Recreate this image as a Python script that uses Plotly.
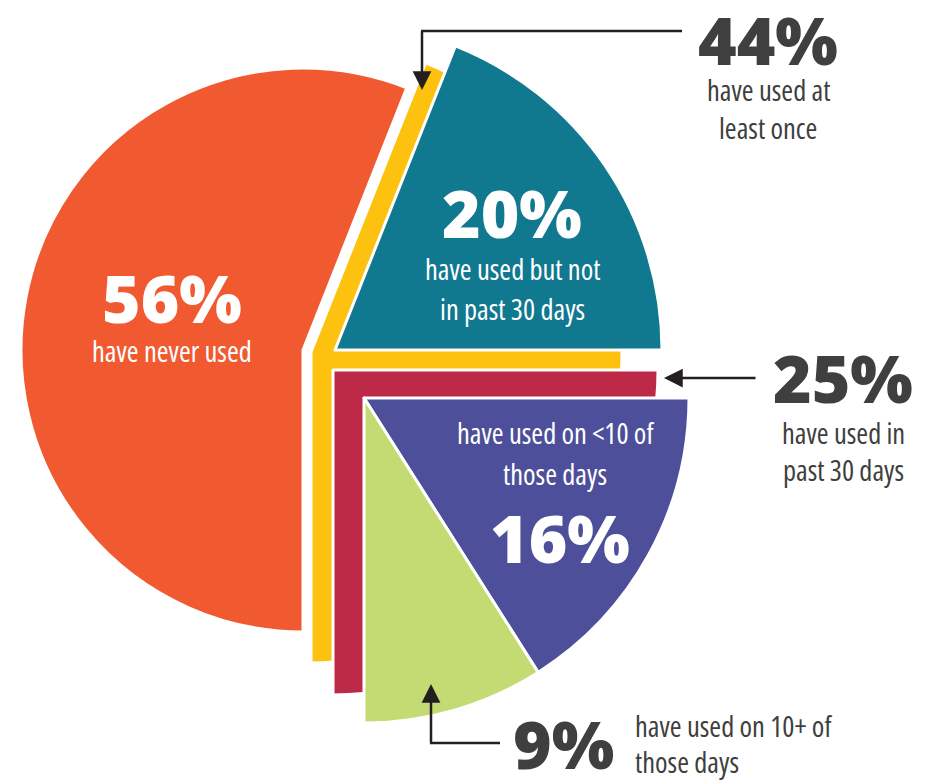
import plotly.graph_objects as go

W, H = 930, 780

# ---- data (percent of respondents) ----
never_used = 56
ever_used = 44
used_not_past30 = 20
used_past30 = 25
used_lt10 = 16
used_10plus = 9

big_labels = ["56%", "20%", "16%", "44%", "25%", "9%"]

# ---- styles ----
C_NEVER = "#F15A31"
C_EVER = "#FDC210"
C_NOT30 = "#10788F"
C_PAST30 = "#BC2A48"
C_LT10 = "#4D4F9A"
C_GE10 = "#C4DB74"
NONE = "rgba(0,0,0,0)"
DARK = "#3F3F40"
ARROW = "#231F20"

BIG = "Open Sans"
SMALL = "Open Sans"
SM = 28.5

# the "ever used" group starts so that it ends at 6 o'clock
rot = 180 - 360 * ever_used / 100
teal_part = ever_used - used_past30


def dom(cx, cy, r):
    return dict(x=[max(0, (cx - r) / W), min(1, (cx + r) / W)],
                y=[max(0, 1 - (cy + r) / H), min(1, 1 - (cy - r) / H)])


def pie(values, colors, cx, cy, r):
    widths = [0 if c == NONE else 3 for c in colors]
    return go.Pie(
        values=values, sort=False, direction="clockwise", rotation=rot,
        marker=dict(colors=colors, line=dict(color="white", width=widths)),
        textinfo="none", hoverinfo="skip", showlegend=False,
        domain=dom(cx, cy, r),
    )


fig = go.Figure()
fig.add_trace(pie([ever_used, never_used], [C_EVER, NONE], 311, 352, 311))
fig.add_trace(pie([ever_used, never_used], [NONE, C_NEVER], 303, 350, 282))
fig.add_trace(pie([teal_part, used_past30, never_used], [C_NOT30, NONE, NONE], 335, 350, 327))
fig.add_trace(pie([teal_part, used_past30, never_used], [NONE, C_PAST30, NONE], 333, 370, 325))
fig.add_trace(pie([teal_part, used_lt10, used_10plus, never_used], [NONE, C_LT10, C_GE10, NONE], 364, 398, 325))


def px(x):
    return x / W


def py(y):
    return 1 - y / H


ann = []


def text(x, y, s, size, color, bold=False, xanchor="center", yanchor="middle"):
    if not bold:
        s = '<span style="font-stretch:75%">' + s + "</span>"
    ann.append(dict(
        x=px(x), y=py(y), xref="paper", yref="paper", text=s, showarrow=False,
        xanchor=xanchor, yanchor=yanchor, borderpad=0,
        font=dict(size=size, color=color, family=BIG if bold else SMALL,
                  weight=800 if bold else 400),
    ))


# labels inside the pie
text(172, 297, big_labels[0], 66, "white", True)
text(172, 351, "have never used", SM, "white")
text(512, 212, big_labels[1], 66, "white", True)
text(512, 269, "have used but not", SM, "white")
text(512, 309, "in past 30 days", SM, "white")
text(555, 433, "have used on &lt;10 of", SM, "white")
text(555, 474, "those days", SM, "white")
text(560, 537, big_labels[2], 66, "white", True)

# outside labels
text(768, 39, big_labels[3], 66, DARK, True)
text(768, 90, "have used at", SM, DARK)
text(768, 128, "least once", SM, DARK)
text(843, 377, big_labels[4], 66, DARK, True)
text(843, 433, "have used in", SM, DARK)
text(843, 470, "past 30 days", SM, DARK)
text(563, 743, big_labels[5], 66, DARK, True)
text(634, 726, "have used on 10+ of", SM, DARK, xanchor="left")
text(634, 762, "those days", SM, DARK, xanchor="left")


def arrow(hx, hy, tx, ty):
    ann.append(dict(
        x=px(hx), y=py(hy), xref="paper", yref="paper", text="", showarrow=True,
        ax=tx - hx, ay=ty - hy, arrowhead=2, arrowsize=1.5, arrowwidth=2.5,
        arrowcolor=ARROW, standoff=0, startstandoff=0,
    ))


shapes = []


def seg(x0, y0, x1, y1):
    shapes.append(dict(type="line", xref="paper", yref="paper",
                       x0=px(x0), y0=py(y0), x1=px(x1), y1=py(y1),
                       line=dict(color=ARROW, width=2.5)))


# 44% elbow arrow
seg(682, 31, 421, 31)
arrow(422, 90, 422, 30)
# 25% arrow
arrow(664, 378, 757, 378)
# 9% elbow arrow
seg(500, 743, 430, 743)
arrow(431, 684, 431, 744)

fig.update_layout(
    width=W, height=H, margin=dict(l=0, r=0, t=0, b=0),
    paper_bgcolor="white", plot_bgcolor="white",
    annotations=ann, shapes=shapes,
)

fig.write_html("out.html")
